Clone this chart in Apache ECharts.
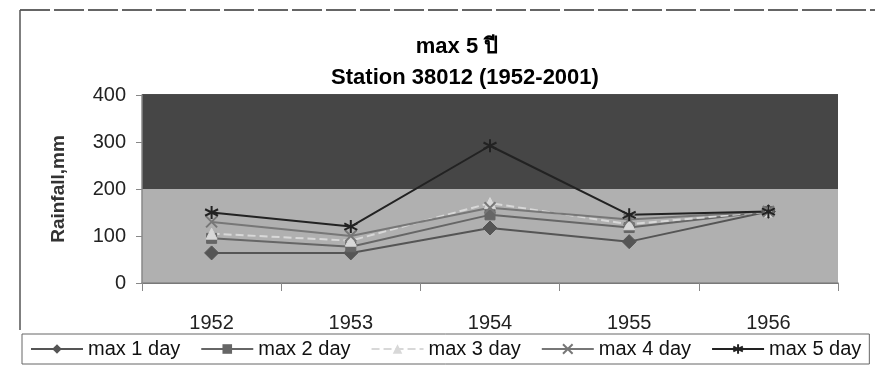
<!DOCTYPE html>
<html><head><meta charset="utf-8">
<script src="https://cdn.jsdelivr.net/npm/echarts@6/dist/echarts.min.js"></script>
<style>html,body{margin:0;padding:0;background:#fff}#c{width:878px;height:380px}</style>
</head><body><div id="c"></div>
<script>
const categories = ['1952','1953','1954','1955','1956'];
const max1 = [64, 64, 117, 88, 152];
const max2 = [95, 77, 145, 118, 152];
const max3 = [105, 90, 170, 125, 152];
const max4 = [130, 100, 160, 135, 152];
const max5 = [150, 120, 292, 145, 152];
const seriesNames = ['max 1 day','max 2 day','max 3 day','max 4 day','max 5 day'];
const yTicks = [0, 100, 200, 300, 400];

const xPath = 'path://M0,0L10,10M10,0L0,10';
const starPath = 'path://M5,0L5,10M0,2.5L10,7.5M10,2.5L0,7.5';
const font = 'Liberation Sans, Arial, sans-serif';

const chart = echarts.init(document.getElementById('c'));
const mk = (name, data, color, symbol, size, lineType, extra) => Object.assign({
  name, type:'line', data, symbol, symbolSize:size,
  lineStyle:{color, width:2, type:lineType},
  itemStyle:{color, borderColor:color},
  z:5
}, extra||{});

chart.setOption({
  animation:false,
  title:[
    {text:'max 5 ปี', left:452, textAlign:'center', top:31, textStyle:{fontFamily:font, fontSize:22, fontWeight:'bold', color:'#000'}},
    {text:'Station 38012 (1952-2001)', left:460, textAlign:'center', top:62, textStyle:{fontFamily:font, fontSize:22, fontWeight:'bold', color:'#000'}}
  ],
  graphic:[
    {type:'line', shape:{x1:20,y1:10,x2:875,y2:10}, style:{stroke:'#333', lineWidth:1.5, lineDash:[30,4]}},
    {type:'line', shape:{x1:20,y1:10,x2:20,y2:330}, style:{stroke:'#555', lineWidth:1.5}}
  ],
  grid:{left:142, right:40, top:95, bottom:97},
  legend:{
    data:seriesNames, left:22, top:334, width:851, height:32,
    itemWidth:52, itemHeight:12, itemGap:20,
    padding:[5,8,5,8],
    borderColor:'#666', borderWidth:1,
    textStyle:{fontFamily:font, fontSize:20, color:'#111'}
  },
  xAxis:{
    type:'category', data:categories, boundaryGap:true,
    axisLine:{lineStyle:{color:'#888', width:1.5}},
    axisTick:{show:true, length:8, lineStyle:{color:'#888'}},
    axisLabel:{fontFamily:font, fontSize:20, color:'#222', margin:30}
  },
  yAxis:{
    type:'value', min:0, max:400, interval:100,
    name:'Rainfall,mm', nameLocation:'middle', nameGap:74, nameRotate:90,
    nameTextStyle:{fontFamily:font, fontSize:19, fontWeight:'bold', color:'#333'},
    axisLine:{show:true, lineStyle:{color:'#888', width:1.5}},
    axisTick:{show:true, length:6, inside:false, lineStyle:{color:'#888'}},
    axisLabel:{fontFamily:font, fontSize:20, color:'#222', margin:16,
      formatter:v => yTicks.indexOf(v) >= 0 ? String(v) : ''},
    splitLine:{show:true, lineStyle:{color:'#111', width:1.5}}
  },
  series:[
    mk(seriesNames[0], max1, '#555', 'diamond', 14, 'solid', {
      markArea:{silent:true, z:0, data:[
        [{yAxis:200, itemStyle:{color:'#464646'}}, {yAxis:400}],
        [{yAxis:0, itemStyle:{color:'#b0b0b0'}}, {yAxis:200}]
      ]}
    }),
    mk(seriesNames[1], max2, '#666', 'rect', 10, 'solid'),
    mk(seriesNames[2], max3, '#d8d8d8', 'triangle', 11, 'dashed'),
    mk(seriesNames[3], max4, '#777', xPath, 11, 'solid', {itemStyle:{color:'#777', borderColor:'#777', borderWidth:2}}),
    mk(seriesNames[4], max5, '#222', starPath, 13, 'solid', {itemStyle:{color:'#222', borderColor:'#222', borderWidth:2}})
  ]
});
</script></body></html>
